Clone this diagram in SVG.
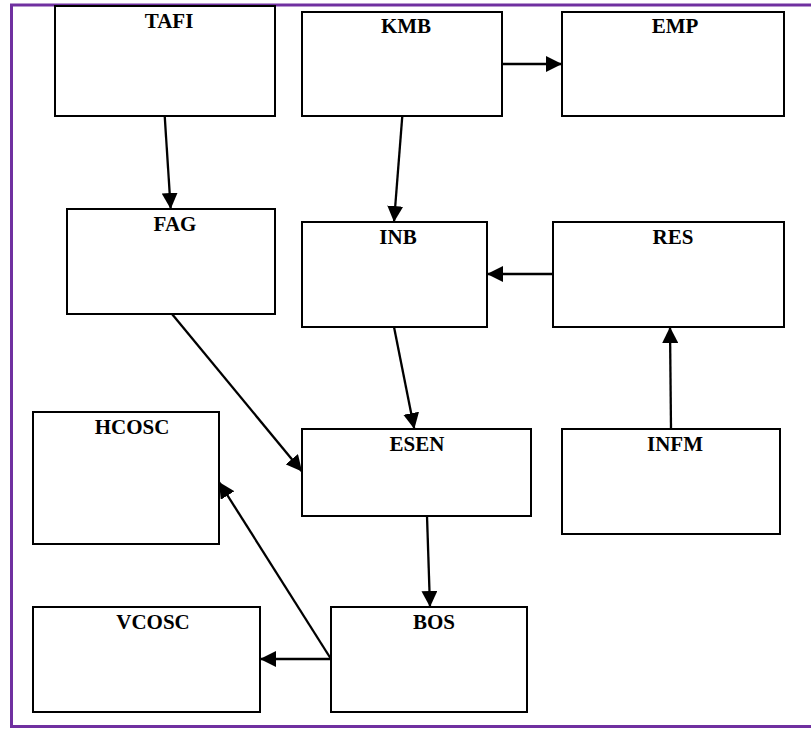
<svg xmlns="http://www.w3.org/2000/svg" width="811" height="729" viewBox="0 0 811 729">
<style>
.box{fill:#fff;stroke:#000;stroke-width:2}
.lbl{font-family:"Liberation Serif","Times New Roman",serif;font-weight:bold;font-size:21px;fill:#000;text-anchor:middle}
.edge{stroke:#000;stroke-width:2.3;fill:none;marker-end:url(#ah)}
</style>
<defs>
<marker id="ah" markerUnits="userSpaceOnUse" markerWidth="16" markerHeight="16" refX="16" refY="8" orient="auto">
<path d="M0,0 L16,8 L0,16 z" fill="#000"/>
</marker>
</defs>
<rect width="811" height="729" fill="#fff"/>
<path d="M811,5 H11.5 V726.5 H811" fill="none" stroke="#7030A0" stroke-width="3"/>
<g id="TAFI"><rect class="box" x="55" y="6" width="220" height="110"/><text class="lbl" x="169" y="28">TAFI</text></g>
<g id="KMB"><rect class="box" x="302" y="12" width="200" height="104"/><text class="lbl" x="406" y="33">KMB</text></g>
<g id="EMP"><rect class="box" x="562" y="12" width="222" height="104"/><text class="lbl" x="675" y="33">EMP</text></g>
<g id="FAG"><rect class="box" x="67" y="209" width="208" height="105"/><text class="lbl" x="175" y="231">FAG</text></g>
<g id="INB"><rect class="box" x="302" y="222" width="185" height="105"/><text class="lbl" x="398" y="244">INB</text></g>
<g id="RES"><rect class="box" x="553" y="222" width="231" height="105"/><text class="lbl" x="673" y="244">RES</text></g>
<g id="HCOSC"><rect class="box" x="33" y="412" width="186" height="132"/><text class="lbl" x="132" y="434">HCOSC</text></g>
<g id="ESEN"><rect class="box" x="302" y="429" width="229" height="87"/><text class="lbl" x="417" y="451">ESEN</text></g>
<g id="INFM"><rect class="box" x="562" y="429" width="218" height="105"/><text class="lbl" x="675" y="451">INFM</text></g>
<g id="VCOSC"><rect class="box" x="33" y="607" width="227" height="105"/><text class="lbl" x="153" y="629">VCOSC</text></g>
<g id="BOS"><rect class="box" x="331" y="607" width="196" height="105"/><text class="lbl" x="434" y="629">BOS</text></g>
<g id="connectors">
<line class="edge" x1="164.7" y1="116" x2="170.7" y2="209"/>
<line class="edge" x1="502" y1="64" x2="562" y2="64"/>
<line class="edge" x1="402.3" y1="116" x2="394" y2="222"/>
<line class="edge" x1="553" y1="274" x2="487" y2="274"/>
<line class="edge" x1="394" y1="327" x2="414.3" y2="429"/>
<line class="edge" x1="671" y1="429" x2="670" y2="327"/>
<line class="edge" x1="172" y1="314" x2="302" y2="471.5"/>
<line class="edge" x1="427" y1="516" x2="430" y2="607"/>
<line class="edge" x1="331" y1="659" x2="219" y2="482"/>
<line class="edge" x1="331" y1="659" x2="260" y2="659"/>
</g>
</svg>
